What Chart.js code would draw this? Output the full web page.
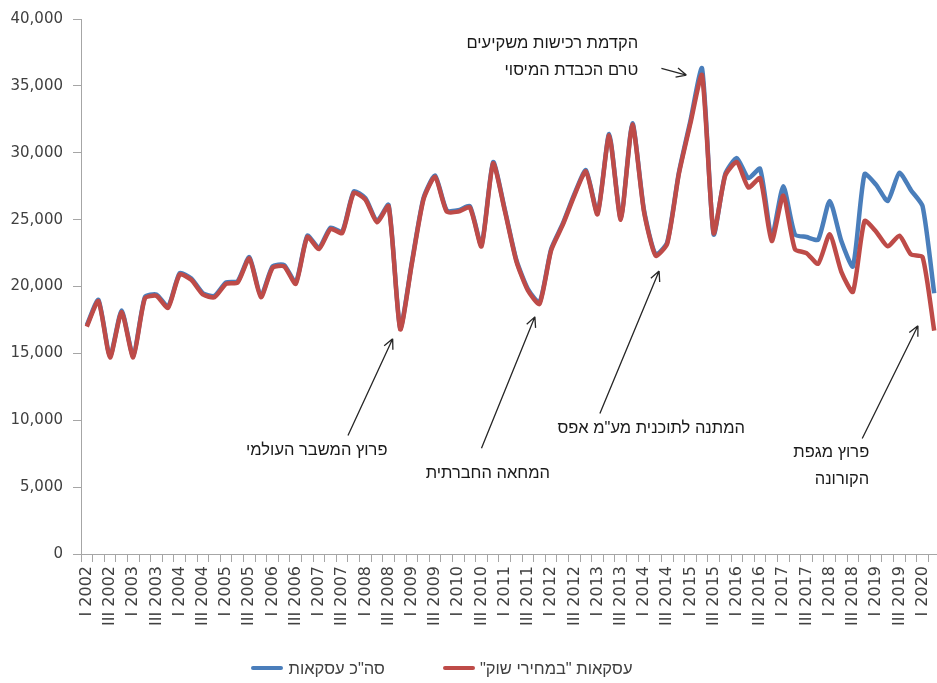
<!DOCTYPE html>
<html>
<head>
<meta charset="utf-8">
<script src="https://cdn.jsdelivr.net/npm/chart.js@4.4.0/dist/chart.umd.min.js"></script>
<style>
  html, body { margin: 0; padding: 0; background: #fff; overflow: hidden; }
  #wrap { position: relative; width: 946px; height: 683px; }
  #legend {
    position: absolute; left: 0; top: 657px; width: 884px; height: 22px;
    display: flex; justify-content: center; align-items: center; gap: 58px;
    font: 16.5px "Liberation Sans", Arial, sans-serif; color: #404040;
  }
  .item { display: flex; align-items: center; }
  .swatch { display: inline-block; width: 32px; height: 4px; border-radius: 2px; margin-right: 5px; }
</style>
</head>
<body>
<div id="wrap">
  <canvas id="dealsChart"></canvas>
  <div id="legend"></div>
</div>
<script>
// quarters from I 2002 to II 2020
const years = [2002, 2003, 2004, 2005, 2006, 2007, 2008, 2009, 2010, 2011,
               2012, 2013, 2014, 2015, 2016, 2017, 2018, 2019, 2020];
const quarterNames = ['I', 'II', 'III', 'IV'];
const quarterLabels = [];
years.forEach(y => quarterNames.forEach(q => quarterLabels.push(q + ' ' + y)));
quarterLabels.splice(74);

// עסקאות "במחירי שוק"
const marketDeals = [
  17000, 18900, 14700, 18100, 14700, 19100, 19300, 18400,
  20900, 20500, 19400, 19200, 20200, 20300, 22100, 19200,
  21400, 21500, 20200, 23700, 22800, 24300, 24000, 27000,
  26500, 24800, 26000, 16800, 21700, 26500, 28200, 25600,
  25600, 25900, 23000, 29200, 25700, 21900, 19700, 18700,
  22700, 24600, 26800, 28600, 25400, 31300, 25000, 32100,
  25600, 22300, 23200, 28400, 32200, 35800, 24000, 28300,
  29300, 27400, 28100, 23400, 26800, 22800, 22500, 21700,
  23900, 21100, 19600, 24900, 24100, 23000, 23800, 22400,
  22200, 16700
];

// סה"כ עסקאות
const totalDeals = [
  17100, 19000, 14800, 18200, 14800, 19200, 19400, 18500,
  21000, 20600, 19500, 19300, 20300, 20400, 22200, 19300,
  21500, 21600, 20300, 23800, 22900, 24400, 24100, 27100,
  26600, 24900, 26100, 16900, 21800, 26600, 28300, 25700,
  25700, 26000, 23100, 29300, 25800, 22000, 19800, 18800,
  22800, 24700, 26900, 28700, 25500, 31400, 25100, 32200,
  25700, 22400, 23300, 28500, 32400, 36300, 23900, 28400,
  29600, 28100, 28800, 23700, 27500, 23900, 23700, 23500,
  26400, 23400, 21500, 28400, 27600, 26400, 28500, 27200,
  26000, 19500
];

const yTicks = [0, 5000, 10000, 15000, 20000, 25000, 30000, 35000, 40000];

// annotation text and arrows, placed in data units (quarter index, value)
const notes = [
  { lines: ['פרוץ המשבר העולמי'], textAt: [25.9, 7750], from: [22.5, 8860], to: [26.35, 16090] },
  { lines: ['המחאה החברתית'], textAt: [39.9, 6030], from: [34.0, 7900], to: [38.6, 17730] },
  { lines: ['המתנה לתוכנית מע"מ אפס'], textAt: [56.7, 9390], from: [44.2, 10500], to: [49.3, 21160] },
  { lines: ['פרוץ מגפת', 'הקורונה'], textAt: [67.4, 7600], from: [66.8, 8640], to: [71.6, 17060] },
  { lines: ['הקדמת רכישות משקיעים', 'טרם הכבדת המיסוי'], textAt: [47.5, 38140], from: [49.5, 36300], to: [51.65, 35810] }
];

const BLUE = '#4a7ebb';
const RED = '#be4b48';
const AXIS_GREY = '#a6a6a6';

const notesPlugin = {
  id: 'notes',
  afterDatasetsDraw(chart) {
    const ctx = chart.ctx;
    const x = chart.scales.x;
    const y = chart.scales.y;
    ctx.save();
    ctx.strokeStyle = '#262626';
    ctx.fillStyle = '#1a1a1a';
    ctx.lineWidth = 1.3;
    ctx.font = '16.5px "Liberation Sans", Arial, sans-serif';
    ctx.direction = 'rtl';
    ctx.textAlign = 'right';
    ctx.textBaseline = 'middle';
    notes.forEach(n => {
      const tx = x.getPixelForValue(n.textAt[0]);
      const ty = y.getPixelForValue(n.textAt[1]);
      n.lines.forEach((line, i) => ctx.fillText(line, tx, ty + i * 27));

      const x1 = x.getPixelForValue(n.from[0]), y1 = y.getPixelForValue(n.from[1]);
      const x2 = x.getPixelForValue(n.to[0]), y2 = y.getPixelForValue(n.to[1]);
      const ang = Math.atan2(y2 - y1, x2 - x1);
      ctx.beginPath();
      ctx.moveTo(x1, y1);
      ctx.lineTo(x2, y2);
      [-0.45, 0.45].forEach(d => {
        ctx.moveTo(x2, y2);
        ctx.lineTo(x2 - 11 * Math.cos(ang + d), y2 - 11 * Math.sin(ang + d));
      });
      ctx.stroke();
    });
    ctx.restore();
  }
};

const ctx = document.getElementById('dealsChart').getContext('2d');

const chart = new Chart(ctx, {
  type: 'line',
  data: {
    labels: quarterLabels,
    datasets: [
      {
        label: 'עסקאות "במחירי שוק"',
        data: marketDeals,
        borderColor: RED,
        backgroundColor: RED,
        borderWidth: 4.5,
        pointRadius: 0,
        tension: 0.2,
        fill: false
      },
      {
        label: 'סה"כ עסקאות',
        data: totalDeals,
        borderColor: BLUE,
        backgroundColor: BLUE,
        borderWidth: 4.5,
        pointRadius: 0,
        tension: 0.2,
        fill: false
      }
    ]
  },
  options: {
    responsive: true,
    maintainAspectRatio: false,
    animation: false,
    layout: { padding: { top: 17, right: 6, left: 0, bottom: 41 } },
    plugins: {
      tooltip: { enabled: false },
      legend: { display: false }
    },
    scales: {
      x: {
        offset: true,
        afterFit: s => { s.height = 88; s.paddingRight = 0; },
        border: { display: true, color: AXIS_GREY, width: 1 },
        grid: { offset: true, drawOnChartArea: false, drawTicks: true, tickLength: 8, color: AXIS_GREY },
        ticks: {
          autoSkip: false,
          maxRotation: 90,
          minRotation: 90,
          padding: 4,
          color: '#404040',
          font: { family: '"DejaVu Sans", sans-serif', size: 16 },
          callback: function (value) {
            const lbl = this.getLabelForValue(value);
            return (lbl.startsWith('I ') || lbl.startsWith('III ')) ? lbl : '';
          }
        }
      },
      y: {
        min: 0,
        max: 40000,
        afterFit: s => { s.width = 81; },
        afterBuildTicks: s => { s.ticks = yTicks.map(v => ({ value: v })); },
        border: { display: true, color: AXIS_GREY, width: 1 },
        grid: { drawOnChartArea: false, drawTicks: true, tickLength: 8, color: AXIS_GREY },
        ticks: {
          padding: 10,
          color: '#404040',
          font: { family: '"DejaVu Sans", sans-serif', size: 15 },
          callback: v => v.toLocaleString('en-US')
        }
      }
    }
  },
  plugins: [notesPlugin]
});

// html legend: total first, then market prices
const legendBox = document.getElementById('legend');
chart.data.datasets.slice().reverse().forEach(ds => {
  const item = document.createElement('span');
  item.className = 'item';
  const swatch = document.createElement('span');
  swatch.className = 'swatch';
  swatch.style.background = ds.borderColor;
  const text = document.createElement('span');
  text.dir = 'rtl';
  text.textContent = ds.label;
  item.appendChild(swatch);
  item.appendChild(text);
  legendBox.appendChild(item);
});
</script>
</body>
</html>
